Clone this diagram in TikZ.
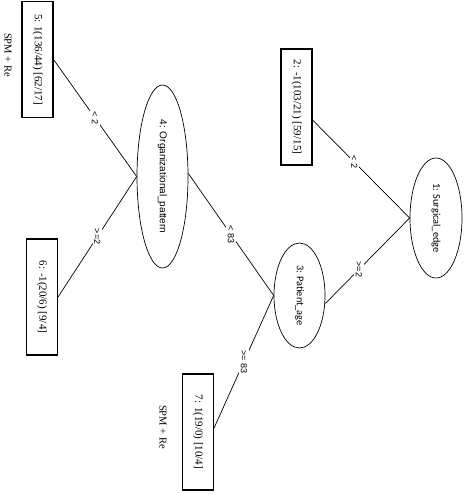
\documentclass[tikz,border=0pt]{standalone}
\usepackage{fontspec}
\setmainfont{Liberation Serif}
\newfontfamily\arialf{Liberation Sans}
\newfontfamily\calf{Carlito}
\usetikzlibrary{shapes.geometric}
\begin{document}
\begin{tikzpicture}[x=1pt,y=1pt,
  leaf/.style={draw, line width=1.1pt, rectangle, rotate=-90, minimum width=116pt, minimum height=31pt, inner sep=0pt, font=\fontsize{11}{13}\selectfont},
  split/.style={draw, line width=0.7pt, ellipse, rotate=-90, inner sep=0pt},
  elab/.style={fill=white, rotate=-90, inner sep=1.5pt, font=\arialf\fontsize{9}{10}\selectfont},
  edge/.style={draw, line width=0.7pt},
  note/.style={rotate=-90, font=\fontsize{10.5}{12}\selectfont}]
\fill[white] (0,0) rectangle (464,-494);
\useasboundingbox (0,0) rectangle (464,-494);
\node[leaf] (n5) at (37.5,-59.5) {5: 1(136/44) [62/17]};
\node[leaf] (n2) at (296.5,-107) {2: -1(103/21) [59/15]};
\node[leaf] (n6) at (42,-297) {6: -1(20/6) [9/4]};
\node[leaf] (n7) at (198,-432) {7: 1(19/0) [10/4]};
\node[split, minimum width=183pt, minimum height=51pt, font=\arialf\fontsize{10}{12}\selectfont] (e4) at (162.5,-176.5) {4: Organizational\_pattern};
\node[split, minimum width=120pt, minimum height=52pt, font=\calf\fontsize{10.3}{12}\selectfont] (e1) at (436,-218) {1: Surgical\_edge};
\node[split, minimum width=105pt, minimum height=51pt, font=\calf\fontsize{10.3}{12}\selectfont] (e3) at (299.5,-295.5) {3: Patient\_age};
\node[note] (s1) at (8,-55) {SPM + Re};
\node[note] (s2) at (163,-427) {SPM + Re};
\draw[edge] (e1.south) -- node[elab, pos=0.57] {< 2} ([yshift=-13pt]n2.north);
\draw[edge] (e1.south) -- node[elab, pos=0.6] {>=2} ([yshift=-8pt]e3.north);
\draw[edge] (e3.south) -- node[elab] {< 83} ([yshift=3pt]e4.north);
\draw[edge] (e3.south) -- node[elab] {>= 83} ([yshift=4pt]n7.north);
\draw[edge] (e4.south) -- node[elab] {< 2} (n5.north);
\draw[edge] (e4.south) -- node[elab] {>=2} (n6.north);
\end{tikzpicture}
\end{document}
